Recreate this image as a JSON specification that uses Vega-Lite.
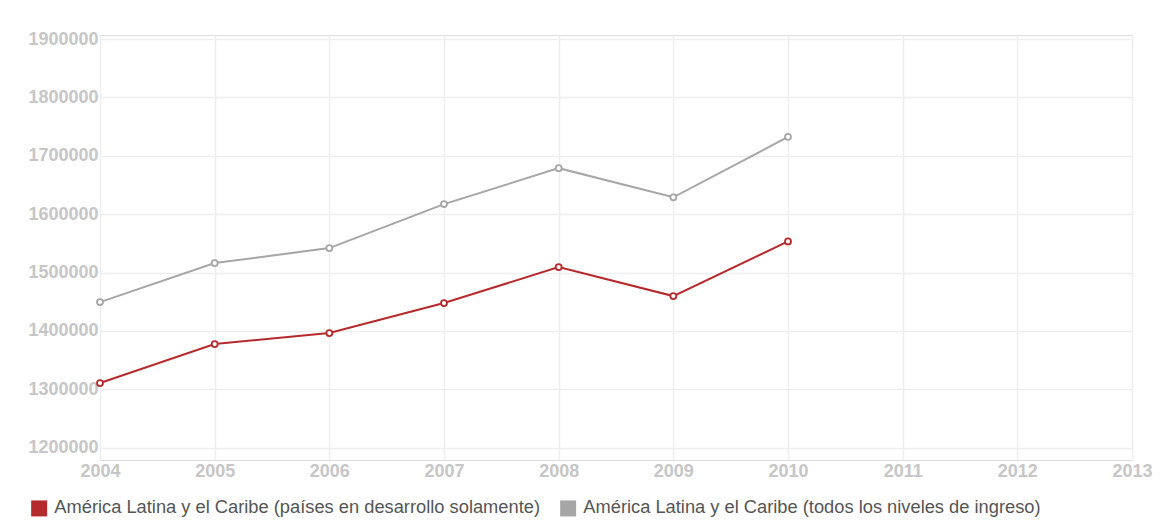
{
  "$schema": "https://vega.github.io/schema/vega-lite/v6.json",
  "width": 1032,
  "height": 425,
  "autosize": {"type": "none"},
  "padding": {"left": 100, "top": 35, "right": 38, "bottom": 69},
  "background": "white",
  "config": {
    "view": {"stroke": "#dddddd", "strokeWidth": 1},
    "font": "Liberation Sans"
  },
  "data": {
    "values": [
      {"year": 2004, "series": "América Latina y el Caribe (países en desarrollo solamente)", "value": 1310800},
      {"year": 2005, "series": "América Latina y el Caribe (países en desarrollo solamente)", "value": 1377600},
      {"year": 2006, "series": "América Latina y el Caribe (países en desarrollo solamente)", "value": 1396400},
      {"year": 2007, "series": "América Latina y el Caribe (países en desarrollo solamente)", "value": 1447800},
      {"year": 2008, "series": "América Latina y el Caribe (países en desarrollo solamente)", "value": 1509400},
      {"year": 2009, "series": "América Latina y el Caribe (países en desarrollo solamente)", "value": 1459800},
      {"year": 2010, "series": "América Latina y el Caribe (países en desarrollo solamente)", "value": 1553400},
      {"year": 2004, "series": "América Latina y el Caribe (todos los niveles de ingreso)", "value": 1449500},
      {"year": 2005, "series": "América Latina y el Caribe (todos los niveles de ingreso)", "value": 1516300},
      {"year": 2006, "series": "América Latina y el Caribe (todos los niveles de ingreso)", "value": 1542000},
      {"year": 2007, "series": "América Latina y el Caribe (todos los niveles de ingreso)", "value": 1617300},
      {"year": 2008, "series": "América Latina y el Caribe (todos los niveles de ingreso)", "value": 1678900},
      {"year": 2009, "series": "América Latina y el Caribe (todos los niveles de ingreso)", "value": 1629000},
      {"year": 2010, "series": "América Latina y el Caribe (todos los niveles de ingreso)", "value": 1732500}
    ]
  },
  "encoding": {
    "x": {
      "field": "year", "type": "quantitative",
      "scale": {"domain": [2004, 2013], "nice": false, "zero": false},
      "axis": {
        "title": null, "format": "d",
        "values": [2004, 2005, 2006, 2007, 2008, 2009, 2010, 2011, 2012, 2013],
        "domain": false, "ticks": false, "labelPadding": 2,
        "labelFontSize": 18, "labelColor": "#c6c6c6", "labelFontWeight": "bold",
        "gridColor": "#eeeeee", "gridWidth": 1.5, "labelFlush": false
      }
    },
    "y": {
      "field": "value", "type": "quantitative",
      "scale": {"domain": [1179000, 1907000], "nice": false, "zero": false},
      "axis": {
        "title": null, "format": "d",
        "values": [1200000, 1300000, 1400000, 1500000, 1600000, 1700000, 1800000, 1900000],
        "domain": false, "ticks": false, "labelPadding": 2,
        "labelFontSize": 18, "labelColor": "#c6c6c6", "labelFontWeight": "bold",
        "gridColor": "#eeeeee", "gridWidth": 1.5
      }
    },
    "color": {
      "field": "series", "type": "nominal",
      "scale": {
        "domain": ["América Latina y el Caribe (países en desarrollo solamente)", "América Latina y el Caribe (todos los niveles de ingreso)"],
        "range": ["#b52a2d", "#a6a6a6"]
      },
      "legend": {
        "title": null, "orient": "none", "direction": "horizontal",
        "legendX": -70, "legendY": 464,
        "symbolType": "square", "symbolSize": 256, "symbolStrokeWidth": 0,
        "labelFontSize": 18.3, "labelColor": "#555555", "labelLimit": 0,
        "columnPadding": 18, "labelOffset": 6
      }
    }
  },
  "layer": [
    {"mark": {"type": "line", "strokeWidth": 2}},
    {"mark": {"type": "point", "shape": "circle", "filled": true, "fill": "white", "strokeWidth": 1.8, "size": 36, "opacity": 1}, "encoding": {"stroke": {"field": "series", "type": "nominal", "legend": null, "scale": {"domain": ["América Latina y el Caribe (países en desarrollo solamente)", "América Latina y el Caribe (todos los niveles de ingreso)"], "range": ["#b52a2d", "#a6a6a6"]}}}}
  ]
}
